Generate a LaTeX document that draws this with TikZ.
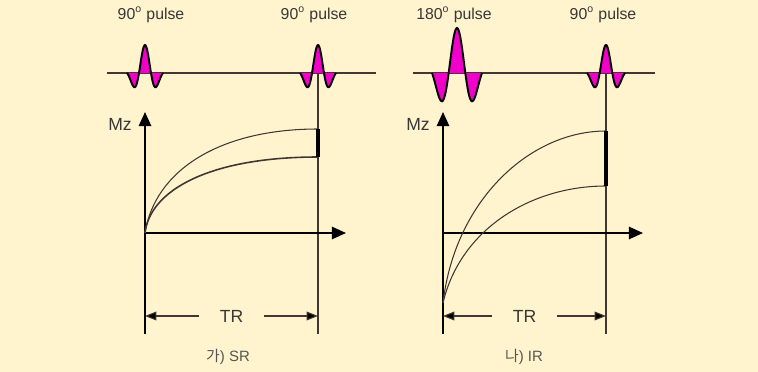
\documentclass[tikz,border=0pt]{standalone}
\usepackage{fontspec}
\setmainfont{Liberation Sans}
\newfontfamily\krfont{Noto Sans CJK KR}
\usepackage{xcolor}
\usetikzlibrary{arrows.meta}

\definecolor{paper}{RGB}{255,244,206}
\definecolor{pulsepink}{RGB}{240,0,200}
\definecolor{ink}{RGB}{65,55,50}
\definecolor{textgray}{RGB}{55,55,55}

\begin{document}
\begin{tikzpicture}[x=0.02cm, y=-0.02cm,
	axis/.style={line width=1.1pt, -{Triangle[length=8pt, width=7pt]}},
	thinline/.style={ink, line width=0.6pt},
	curve/.style={ink, line width=0.6pt},
	bar/.style={line width=2pt},
	span/.style={ink, line width=0.6pt, {Triangle[length=6.5pt, width=5pt, fill=black]}-{Triangle[length=6.5pt, width=5pt, fill=black]}},
	pulselabel/.style={text=textgray, font=\fontsize{9}{10}\selectfont},
	axislabel/.style={text=textgray, font=\fontsize{10}{12}\selectfont},
	caption/.style={text=textgray!85, font=\fontsize{8.5}{10}\selectfont}]
	\fill[paper] (0,0) rectangle (758,372);
	\useasboundingbox (0,0) rectangle (758,372);

	% RF pulse lines
	\coordinate (srBaseA) at (107,73);
	\coordinate (srBaseB) at (376,73);
	\coordinate (irBaseA) at (413,73);
	\coordinate (irBaseB) at (655,73);
	\draw[thinline] (srBaseA) -- (srBaseB);
	\draw[thinline] (irBaseA) -- (irBaseB);

	\foreach \pc/\pw/\ph/\pk in {145/18/28/1.75, 318/18/28/1.75, 457/25/45/1.15, 606/19/28/1.75} {
		\fill[pulsepink] plot[domain=-1:1, samples=61, smooth] ({\pc+\pw*\x}, {73-\ph*cos(270*\x)*exp(-\pk*\x*\x)}) -- cycle;
		\draw[black, line width=1.1pt] plot[domain=-1:1, samples=61, smooth] ({\pc+\pw*\x}, {73-\ph*cos(270*\x)*exp(-\pk*\x*\x)});
	}

	\node[pulselabel] (srPulseA) at (151,15) {90\textsuperscript{o} pulse};
	\node[pulselabel] (srPulseB) at (314,15) {90\textsuperscript{o} pulse};
	\node[pulselabel] (irPulseA) at (454,15) {180\textsuperscript{o} pulse};
	\node[pulselabel] (irPulseB) at (603,15) {90\textsuperscript{o} pulse};

	% (가) saturation recovery
	\coordinate (srO) at (145,233);
	\coordinate (srBottom) at (145,334);
	\coordinate (srTop) at (145,112);
	\coordinate (srRight) at (346,233);
	\coordinate (srMark) at (318,73);
	\coordinate (srMarkEnd) at (318,334);
	\coordinate (srHi) at (318,129);
	\coordinate (srLo) at (318,157);
	\coordinate (srSpanA) at (145,316);
	\coordinate (srSpanB) at (318,316);

	\draw[thinline] (srMark) -- (srMarkEnd);
	\draw[axis] (srBottom) -- (srTop);
	\draw[axis] (srO) -- (srRight);
	\draw[curve] (srO) .. controls (155,170) and (220,129) .. (srHi);
	\draw[curve, line width=0.9pt] (srO) .. controls (150,190) and (210,157) .. (srLo);
	\draw[bar] (srHi) -- (srLo);
	\node[axislabel] (srMz) at (120,124) {Mz};
	\draw[span] (srSpanA) -- (srSpanB) node[midway, axislabel, fill=paper, inner xsep=12pt] (srTR) {TR};
	\node[caption] (srCap) at (228,357) {{\krfont 가}) SR};

	% (나) inversion recovery
	\coordinate (irO) at (443,233);
	\coordinate (irStart) at (443,303);
	\coordinate (irBottom) at (443,334);
	\coordinate (irTop) at (443,112);
	\coordinate (irRight) at (643,233);
	\coordinate (irMark) at (606,73);
	\coordinate (irMarkEnd) at (606,334);
	\coordinate (irHi) at (606,131);
	\coordinate (irLo) at (606,186);
	\coordinate (irSpanA) at (443,316);
	\coordinate (irSpanB) at (606,316);

	\draw[thinline] (irMark) -- (irMarkEnd);
	\draw[axis] (irBottom) -- (irTop);
	\draw[axis] (irO) -- (irRight);
	\draw[curve] (irStart) .. controls (455,200) and (530,131) .. (irHi);
	\draw[curve] (irStart) .. controls (460,230) and (530,186) .. (irLo);
	\draw[bar] (irHi) -- (irLo);
	\node[axislabel] (irMz) at (418,124) {Mz};
	\draw[span] (irSpanA) -- (irSpanB) node[midway, axislabel, fill=paper, inner xsep=12pt] (irTR) {TR};
	\node[caption] (irCap) at (524,357) {{\krfont 나}) IR};
\end{tikzpicture}
\end{document}
